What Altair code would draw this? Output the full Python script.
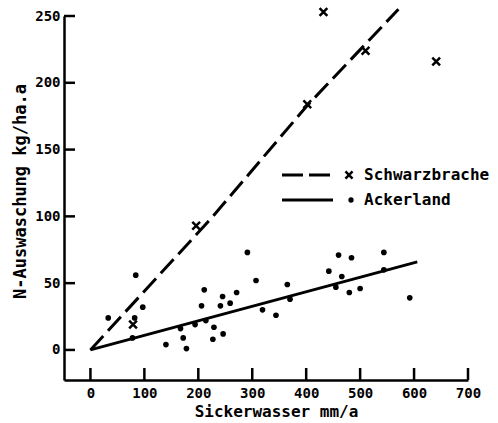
import altair as alt
import pandas as pd

# Ackerland (dots)
ack_x = [33, 84, 97, 82, 78, 140, 167, 172, 178, 194, 206, 211, 214, 229, 227, 241,
         245, 246, 259, 271, 291, 307, 319, 344, 365, 370, 442, 460, 466, 455, 484,
         480, 500, 544, 544, 592]
ack_y = [24, 56, 32, 24, 9, 4, 16, 9, 1, 19, 33, 45, 22, 17, 8, 33,
         40, 12, 35, 43, 73, 52, 30, 26, 49, 38, 59, 71, 55, 47, 69,
         43, 46, 73, 60, 39]
# Schwarzbrache (x markers)
sb_x = [79, 196, 402, 432, 510, 641]
sb_y = [19, 93, 184, 253, 224, 216]
# fitted lines
sb_line_x = [0, 225, 402, 571]
sb_line_y = [0, 99, 183, 255]
ack_line_x = [0, 606]
ack_line_y = [0, 66]
# ticks
x_ticks = [0, 100, 200, 300, 400, 500, 600, 700]
y_ticks = [0, 50, 100, 150, 200, 250]

W, H = 404, 364
FONT = "DejaVu Sans Mono"

xs = alt.Scale(domain=[-49, 700], nice=False, zero=False)
ys = alt.Scale(domain=[-22.5, 250], nice=False, zero=False)

xaxis = alt.Axis(values=x_ticks, ticks=False, grid=False, domainColor="black",
                 domainWidth=2.5, labelFont=FONT, labelFontWeight="bold",
                 labelFontSize=14, labelColor="black", labelPadding=6,
                 labelFlush=False, labelOverlap=False, format="d",
                 title="Sickerwasser mm/a", titleFont=FONT, titleFontWeight="bold",
                 titleFontSize=16, titleColor="black", titleX=212, titleY=31,
                 titleAlign="center", titleBaseline="middle")
yaxis = alt.Axis(values=y_ticks, ticks=False, grid=False, domainColor="black",
                 domainWidth=2.5, labelFont=FONT, labelFontWeight="bold",
                 labelFontSize=14, labelColor="black", labelPadding=4,
                 labelFlush=False, labelOverlap=False, format="d",
                 title="N-Auswaschung kg/ha.a", titleFont=FONT, titleFontWeight="bold",
                 titleFontSize=17, titleColor="black", titleX=-44, titleY=175,
                 titleAngle=270, titleAlign="center", titleBaseline="middle")


def X(f):
    return alt.X(f, type="quantitative", scale=xs, axis=xaxis)


def Y(f):
    return alt.Y(f, type="quantitative", scale=ys, axis=yaxis)


ack_df = pd.DataFrame({"x": ack_x, "y": ack_y})
sb_df = pd.DataFrame({"x": sb_x, "y": sb_y})
sbl_df = pd.DataFrame({"x": sb_line_x, "y": sb_line_y})
ackl_df = pd.DataFrame({"x": ack_line_x, "y": ack_line_y})

XSHAPE = "M-1,-1L1,1M-1,1L1,-1"

dots = alt.Chart(ack_df).mark_circle(size=32, color="black", opacity=1).encode(x=X("x"), y=Y("y"))
crosses = alt.Chart(sb_df).mark_point(shape=XSHAPE, size=60, stroke="black",
                                      strokeWidth=2.5, filled=False, opacity=1).encode(x=X("x"), y=Y("y"))
sb_line = alt.Chart(sbl_df).mark_line(color="black", strokeWidth=3,
                                       strokeDash=[19, 7]).encode(x=X("x"), y=Y("y"))
ack_line = alt.Chart(ackl_df).mark_line(color="black", strokeWidth=2.8).encode(x=X("x"), y=Y("y"))

xt = alt.Chart(pd.DataFrame({"v": x_ticks})).mark_rule(color="black", strokeWidth=2.5).encode(
    x=X("v"), y=alt.value(H), y2=alt.value(H - 12))
yt = alt.Chart(pd.DataFrame({"v": y_ticks})).mark_rule(color="black", strokeWidth=2.5).encode(
    y=Y("v"), x=alt.value(0), x2=alt.value(11))

# legend
leg_dash = alt.Chart().mark_rule(color="black", strokeWidth=3, strokeDash=[21, 6]).encode(
    x=alt.value(218), x2=alt.value(269), y=alt.value(159))
leg_solid = alt.Chart().mark_rule(color="black", strokeWidth=2.8).encode(
    x=alt.value(218), x2=alt.value(269), y=alt.value(184))
leg_x = alt.Chart().mark_point(shape=XSHAPE, size=50, stroke="black", strokeWidth=2.5,
                               filled=False, opacity=1).encode(x=alt.value(285), y=alt.value(159))
leg_dot = alt.Chart().mark_circle(size=28, color="black", opacity=1).encode(
    x=alt.value(287), y=alt.value(184))
leg_t1 = alt.Chart().mark_text(text="Schwarzbrache", font=FONT, fontWeight="bold", fontSize=16,
                               align="left", baseline="middle", color="black").encode(
    x=alt.value(300), y=alt.value(159))
leg_t2 = alt.Chart().mark_text(text="Ackerland", font=FONT, fontWeight="bold", fontSize=16,
                               align="left", baseline="middle", color="black").encode(
    x=alt.value(300), y=alt.value(184))

chart = alt.layer(sb_line, ack_line, dots, crosses, xt, yt,
                  leg_dash, leg_solid, leg_x, leg_dot, leg_t1, leg_t2).properties(
    width=W, height=H,
    autosize=alt.AutoSizeParams(type="none"),
    padding={"left": 64, "top": 16, "right": 30, "bottom": 43},
    background="white",
).configure_view(stroke=None)

chart.save("out.html", embed_options={"renderer": "svg", "actions": False})
